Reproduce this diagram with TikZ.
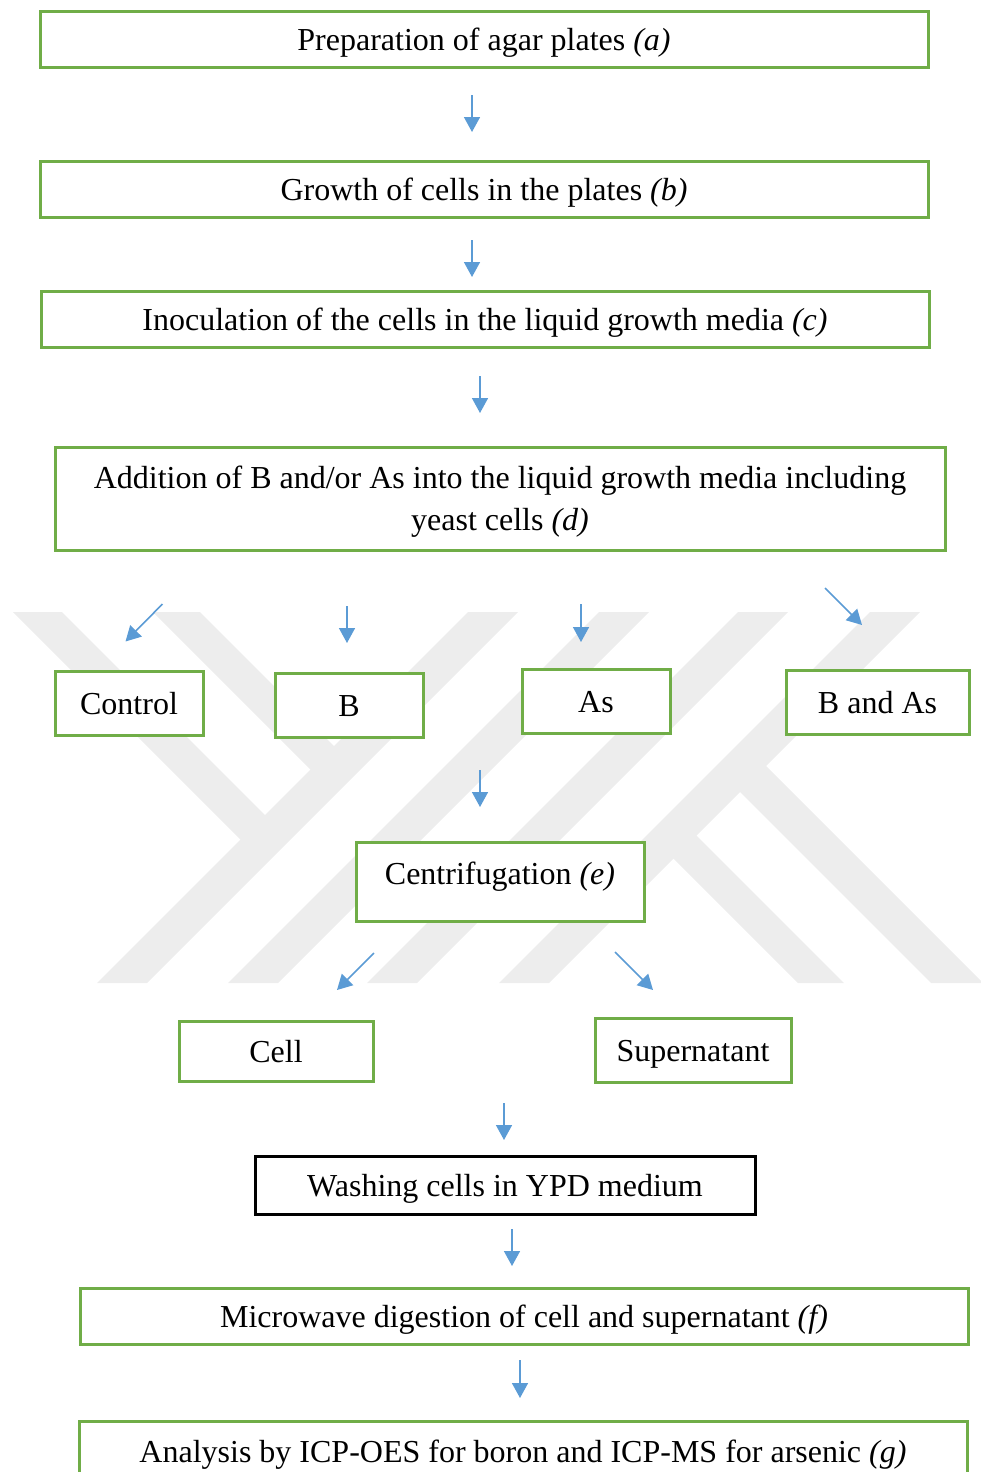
\documentclass[tikz,border=0pt]{standalone}
\usepackage{fontspec}
\setmainfont{Liberation Serif}
\usetikzlibrary{arrows.meta}
\definecolor{boxgreen}{RGB}{112,173,71}
\definecolor{arrowblue}{RGB}{91,155,213}
\definecolor{wmgray}{RGB}{237,237,237}
\tikzset{
  flowbox/.style={draw=boxgreen,fill=white,line width=3pt,inner sep=0pt,
    align=center,font=\fontsize{32}{42}\selectfont},
  onelinebox/.style={flowbox,text height=22pt,text depth=0pt},
  washbox/.style={onelinebox,draw=black},
  flowarrow/.style={draw=arrowblue,line width=1.6pt,
    -{Triangle[width=16pt,length=15pt]}},
  wmark/.style={fill=wmgray}
}

\begin{document}
\begin{tikzpicture}[x=1pt,y=-1pt]
  \useasboundingbox (0,0) rectangle (981,1472);
  \clip (0,0) rectangle (981,1472);
  % watermark behind the chart
  \foreach \s in {1080,1211,1350,1482}
    \fill[wmark] ({\s-612},612) -- ({\s-562},612)
      -- ({\s-933},983) -- ({\s-983},983) -- cycle;
  \fill[wmark] (13,612) -- (62,612) -- (270,820) -- (245.5,844.5) -- cycle;
  \fill[wmark] (153,612) -- (200,612) -- (339,751) -- (315.5,774.5) -- cycle;
  \fill[wmark] (668.5,853.5) -- (691.5,830.5) -- (844,983) -- (798,983) -- cycle;
  \fill[wmark] (735,787) -- (761,761) -- (983,983) -- (931,983) -- cycle;

  \node[onelinebox,minimum width=888pt,minimum height=56pt] (prep) at (484,40)
    {Preparation of agar plates \textit{(a)}};
  \node[onelinebox,minimum width=888pt,minimum height=56pt] (growth) at (484,189)
    {Growth of cells in the plates \textit{(b)}};
  \node[onelinebox,minimum width=888pt,minimum height=56pt] (inoc) at (485,319)
    {Inoculation of the cells in the liquid growth media \textit{(c)}};
  \node[flowbox,minimum width=890pt,minimum height=103pt,text depth=0pt] (addit)
    at (500,498.5)
    {Addition of B and/or As into the liquid growth media including\\
     yeast cells \textit{(d)}};
  \node[onelinebox,minimum width=148pt,minimum height=64pt] (ctrl) at (129,703) {Control};
  \node[onelinebox,minimum width=148pt,minimum height=64pt] (bnode) at (349,705) {B};
  \node[onelinebox,minimum width=148pt,minimum height=64pt] (asnode) at (596,701) {As};
  \node[onelinebox,minimum width=183pt,minimum height=64pt] (bas) at (877.5,702) {B and As};
  \node[onelinebox,minimum width=288pt,minimum height=79pt,text depth=17pt] (centri)
    at (500,881.5) {Centrifugation \textit{(e)}};
  \node[onelinebox,minimum width=194pt,minimum height=60pt] (cell) at (276,1051) {Cell};
  \node[onelinebox,minimum width=196pt,minimum height=64pt] (super) at (693,1050) {Supernatant};
  \node[washbox,minimum width=500pt,minimum height=58pt] (wash) at (505,1185)
    {Washing cells in YPD medium};
  \node[onelinebox,minimum width=888pt,minimum height=56pt] (micro) at (524,1316)
    {Microwave digestion of cell and supernatant \textit{(f)}};
  \node[onelinebox,minimum width=888pt,minimum height=60pt] (analys) at (523,1451)
    {Analysis by ICP-OES for boron and ICP-MS for arsenic \textit{(g)}};

  % short arrows between the steps
  \foreach \xa/\ya/\xb/\yb [count=\i] in {472/95/472/132, 472/240/472/277,
      480/376/480/413, 162.5/604/125.5/641.5, 347/606/347/643, 581/604/581/642,
      825/588/862/625, 480/770/480/807, 374/953/337/990, 615/952/653/990,
      504/1103/504/1140, 512/1229/512/1266, 520/1360/520/1398}{
    \coordinate (arr\i a) at (\xa,\ya);
    \coordinate (arr\i b) at (\xb,\yb);
    \draw[flowarrow] (arr\i a) -- (arr\i b);
  }
\end{tikzpicture}
\end{document}
